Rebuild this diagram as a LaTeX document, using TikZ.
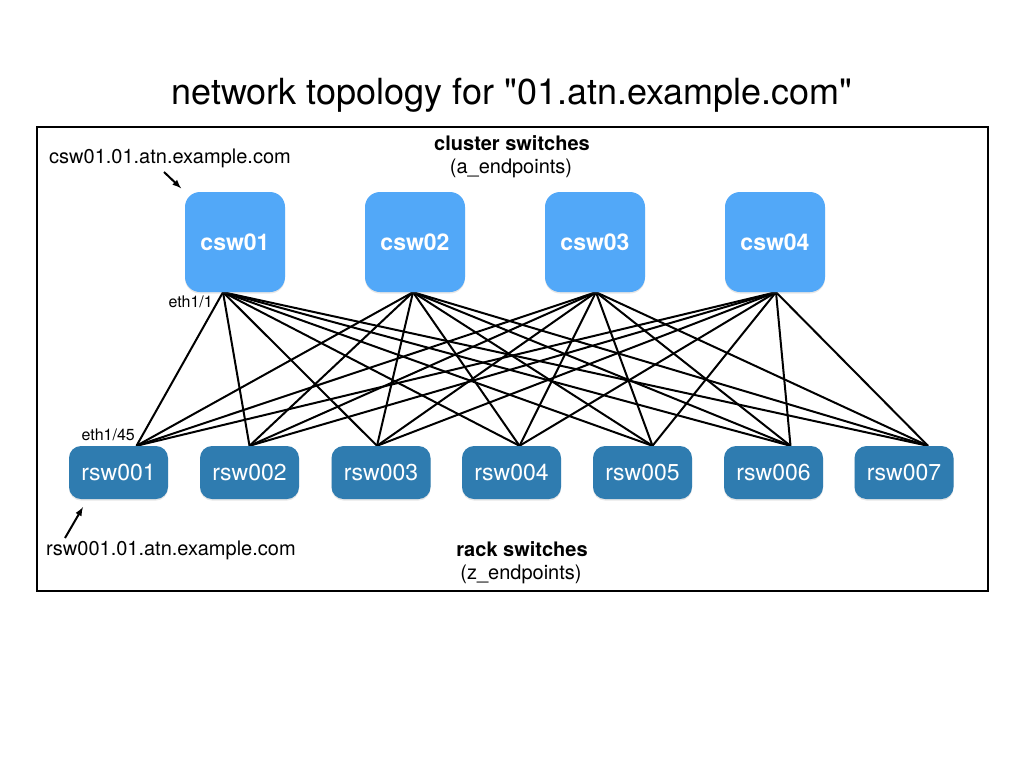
\documentclass[tikz,border=0pt]{standalone}
\usepackage{fontspec}
\setmainfont{TeX Gyre Heros}[Ligatures=TeXOff]
\usepackage{tikz}
\usetikzlibrary{arrows,positioning,calc,shadows}
\pgfdeclarelayer{bg}
\pgfsetlayers{bg,main}
\definecolor{cswblue}{RGB}{82,168,248}
\definecolor{rswblue}{RGB}{47,124,176}

\begin{document}
\begin{tikzpicture}[x=1pt,y=-1pt,
    csw/.style={fill=cswblue, rounded corners=15pt, minimum width=100pt, minimum height=100pt,
        text=white, font=\fontsize{23}{23}\selectfont\bfseries,
        drop shadow={opacity=0.2, shadow xshift=0pt, shadow yshift=-1.5pt}},
    rsw/.style={fill=rswblue, rounded corners=12pt, minimum width=99pt, minimum height=53pt,
        text=white, font=\fontsize{23}{23}\selectfont,
        drop shadow={opacity=0.2, shadow xshift=0pt, shadow yshift=-1.5pt}},
    lbl/.style={font=\fontsize{20}{20}\selectfont, inner sep=0pt},
    port/.style={font=\fontsize{16}{16}\selectfont, inner sep=0pt},
    link/.style={line width=2pt},
    ptr/.style={-latex, line width=2pt}]

    \useasboundingbox (0,0) rectangle (1024,768);

    % title and frame
    \node [anchor=base, inner sep=0pt, font=\fontsize{36}{36}\selectfont] (title) at (512,104) {network topology for "01.atn.example.com"};
    \draw [line width=2pt] (37,127) rectangle (988,591);

    \node [lbl, anchor=base, font=\fontsize{20}{20}\selectfont\bfseries] (cswhead) at (512,150) {cluster switches};
    \node [lbl, anchor=base] (cswsub) at (511,173) {(a\_endpoints)};
    \node [lbl, anchor=base, font=\fontsize{20}{20}\selectfont\bfseries] (rswhead) at (522,556) {rack switches};
    \node [lbl, anchor=base] (rswsub) at (521,579) {(z\_endpoints)};

    % cluster switches
    \node [csw] (csw01) at (235,242) {csw01};
    \node [csw] (csw02) at (415,242) {csw02};
    \node [csw] (csw03) at (595,242) {csw03};
    \node [csw] (csw04) at (775,242) {csw04};

    % rack switches
    \node [rsw] (rsw001) at (118.5,472.5) {rsw001};
    \node [rsw] (rsw002) at (249.5,472.5) {rsw002};
    \node [rsw] (rsw003) at (381,472.5) {rsw003};
    \node [rsw] (rsw004) at (511.5,472.5) {rsw004};
    \node [rsw] (rsw005) at (642.5,472.5) {rsw005};
    \node [rsw] (rsw006) at (773.5,472.5) {rsw006};
    \node [rsw] (rsw007) at (904,472.5) {rsw007};

    % ports
    \foreach \c/\dx in {1/-12,2/-2,3/1,4/1}
        \coordinate (up\c) at ($(csw0\c.south)+(\dx,0)$);
    \foreach \r/\dx in {1/18,2/0,3/-4,4/8,5/10,6/17,7/24}
        \coordinate (dn\r) at ($(rsw00\r.north)+(\dx,0)$);

    \node [port, anchor=base east] (eth11) at (213,307) {eth1/1};
    \node [port, anchor=base east] (eth145) at (135,440) {eth1/45};

    % hostnames
    \node [lbl, anchor=base west] (cswname) at (49,163) {csw01.01.atn.example.com};
    \node [lbl, anchor=base west] (rswname) at (46,555) {rsw001.01.atn.example.com};
    \coordinate (cswtail) at (164,172);
    \coordinate (rswtail) at (65,538);
    \coordinate (rswtip) at (83,507);
    \draw [ptr, shorten >=5pt] (cswtail) -- (csw01.north west);
    \draw [ptr] (rswtail) -- (rswtip);

    \begin{pgfonlayer}{bg}    % links under the boxes
        \foreach \c in {1,...,4}
            \foreach \r in {1,...,7}
                \draw [link] (up\c) -- (dn\r);
    \end{pgfonlayer}
\end{tikzpicture}
\end{document}
